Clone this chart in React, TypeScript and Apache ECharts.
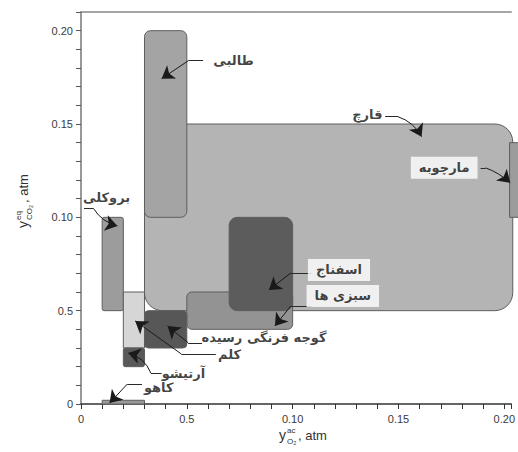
import React, { useEffect, useRef } from "react";
import * as echarts from "echarts";

// ---- data (O2 range on x, CO2 range on y, in atm) ----
const produce = ["قارچ", "سبزی ها", "اسفناج", "طالبی", "بروکلی", "کلم", "آرتیشو", "گوجه فرنگی رسیده", "کاهو", "مارچوبه"];
const o2Min = [0.03, 0.05, 0.07, 0.03, 0.01, 0.02, 0.02, 0.03, 0.01, 0.2025];
const o2Max = [0.204, 0.10, 0.10, 0.05, 0.02, 0.03, 0.03, 0.05, 0.03, 0.215];
const co2Min = [0.05, 0.04, 0.05, 0.10, 0.05, 0.03, 0.02, 0.03, 0.0, 0.10];
const co2Max = [0.15, 0.06, 0.10, 0.20, 0.10, 0.06, 0.03, 0.05, 0.002, 0.14];

const xTickLabels = ["0", "0.5", "0.10", "0.15", "0.20"];
const yTickLabels = ["0", "0.5", "0.10", "0.15", "0.20"];

// ---- styles ----
const fills = ["#b4b4b4", "#939393", "#5c5c5c", "#a4a4a4", "#9c9c9c", "#d6d6d6", "#595959", "#575757", "#9a9a9a", "#9c9c9c"];
const radii = [18, 5, 8, 6, 2, 0, 2, 4, 0, 0];

// ---- annotations (label centre, leader start, elbow, arrow tip) in data units ----
const annotations = [
  { name: "طالبی", at: [0.0721, 0.1839], start: [0.0577, 0.1839], elbow: [0.0507, 0.1839], tip: [0.0381, 0.1743], curve: 0, box: false },
  { name: "قارچ", at: [0.1353, 0.155], start: [0.1437, 0.1539], elbow: [0.1498, 0.1539], tip: [0.1609, 0.1432], curve: 0.2, box: false },
  { name: "مارچوبه", at: [0.1716, 0.1265], start: [0.1888, 0.1265], elbow: [0.1912, 0.1265], tip: [0.2028, 0.1185], curve: 0.1, box: true },
  { name: "بروکلی", at: [0.0121, 0.1105], start: [0.0014, 0.1046], elbow: [0.006, 0.1046], tip: [0.0172, 0.0954], curve: -0.2, box: false },
  { name: "اسفناج", at: [0.1219, 0.0718], start: [0.1088, 0.0702], elbow: [0.0991, 0.0702], tip: [0.0888, 0.0611], curve: 0, box: true },
  { name: "سبزی ها", at: [0.1237, 0.0579], start: [0.1088, 0.0525], elbow: [0.0991, 0.0525], tip: [0.0916, 0.0418], curve: 0, box: true },
  { name: "گوجه فرنگی رسیده", at: [0.0865, 0.0354], start: [0.0572, 0.0327], elbow: [0.0507, 0.0327], tip: [0.0409, 0.0418], curve: 0, box: false },
  { name: "کلم", at: [0.0702, 0.0263], start: [0.0637, 0.0268], elbow: [0.0474, 0.0268], tip: [0.0256, 0.0445], curve: 0, box: false },
  { name: "آرتیشو", at: [0.0484, 0.0161], start: [0.0381, 0.0166], elbow: [0.033, 0.0166], tip: [0.0223, 0.0273], curve: -0.25, box: false },
  { name: "کاهو", at: [0.0367, 0.0091], start: [0.0288, 0.0107], elbow: [0.0219, 0.0107], tip: [0.0135, 0.0005], curve: 0, box: false },
];

const fmt = (labels: string[]) => (v: number) => {
  const i = Math.round(v / 0.05);
  if (Math.abs(v - i * 0.05) < 1e-6 && i >= 0 && i < labels.length) return labels[i];
  return "";
};

const FONT = "DejaVu Sans";

export default function App() {
  const ref = useRef<HTMLDivElement>(null);
  useEffect(() => {
    if (!ref.current) return;
    const chart = echarts.init(ref.current, undefined, { renderer: "svg" });
    const rectData = produce.map((n, i) => ({ name: n, value: [o2Min[i], o2Max[i], co2Min[i], co2Max[i]] }));
    const axisFont = { fontFamily: "Liberation Sans", fontSize: 11, color: "#3a3a3a" };
    const option: any = {
      animation: false,
      grid: { left: 81, right: 0, top: 12, bottom: 48 },
      xAxis: [
        {
          type: "value", min: 0, max: 0.2033, interval: 0.05,
          splitLine: { show: false }, minorSplitLine: { show: false },
          axisLine: { lineStyle: { color: "#333", width: 1.5 } },
          axisTick: { show: true, length: 5, lineStyle: { color: "#333", width: 1 } },
          minorTick: { show: true, splitNumber: 5, length: 5, lineStyle: { color: "#333", width: 1 } },
          axisLabel: { ...axisFont, margin: 9, formatter: fmt(xTickLabels), showMaxLabel: false },
        },
        {
          type: "value", position: "top", min: 0, max: 0.2033,
          splitLine: { show: false }, axisTick: { show: false }, axisLabel: { show: false },
          axisLine: { show: true, lineStyle: { color: "#888", width: 1.5 } },
        },
      ],
      yAxis: {
        type: "value", min: 0, max: 0.21, interval: 0.05,
        splitLine: { show: false }, minorSplitLine: { show: false },
        axisLine: { show: true, lineStyle: { color: "#777", width: 1.5 } },
        axisTick: { show: true, length: 5, lineStyle: { color: "#555", width: 1 } },
        minorTick: { show: true, splitNumber: 5, length: 5, lineStyle: { color: "#555", width: 1 } },
        axisLabel: { ...axisFont, margin: 8, formatter: fmt(yTickLabels), showMaxLabel: false },
      },
      series: [
        {
          type: "custom",
          data: rectData,
          renderItem: (params: any, api: any) => {
            const i = params.dataIndex;
            const p0 = api.coord([api.value(0), api.value(3)]);
            const p1 = api.coord([api.value(1), api.value(2)]);
            const w = p1[0] - p0[0];
            const h = p1[1] - p0[1];
            return {
              type: "rect",
              shape: { x: p0[0], y: p0[1], width: w, height: h, r: Math.min(radii[i], w / 2, h / 2) },
              style: { fill: fills[i], stroke: "#5e5e5e", lineWidth: 1 },
            };
          },
          z: 2,
        },
        {
          type: "lines",
          coordinateSystem: "cartesian2d",
          symbol: ["none", "none"],
          lineStyle: { color: "#2a2a2a", width: 1, opacity: 1 },
          data: annotations.map((a) => ({ coords: [a.start, a.elbow] })),
          z: 4,
          silent: true,
        },
        {
          type: "lines",
          coordinateSystem: "cartesian2d",
          symbol: ["none", "arrow"],
          symbolSize: [8, 12],
          lineStyle: { color: "#1a1a1a", width: 1, opacity: 1 },
          data: annotations.map((a) => ({ coords: [a.elbow, a.tip], lineStyle: { curveness: a.curve } })),
          z: 4,
          silent: true,
        },
        {
          type: "scatter",
          symbolSize: 1,
          itemStyle: { color: "transparent" },
          data: annotations.map((a) => ({
            name: a.name,
            value: a.at,
            label: a.box
              ? { backgroundColor: "#ffffff", padding: [5, 8, 4, 8] }
              : {},
          })),
          label: {
            show: true,
            position: "inside",
            formatter: (p: any) => p.name,
            fontFamily: FONT,
            fontSize: 13,
            fontWeight: "bold",
            color: "#111",
          },
          z: 5,
          silent: true,
        },
      ],
      graphic: [
        {
          type: "group",
          left: 279,
          top: 426,
          children: [
            { type: "text", x: 0, y: 2, style: { text: "y", font: "14px 'Liberation Sans'", fill: "#333" } },
            { type: "text", x: 8, y: 0, style: { text: "ac", font: "8px 'Liberation Sans'", fill: "#333" } },
            { type: "text", x: 8, y: 11, style: { text: "O₂", font: "8px 'Liberation Sans'", fill: "#333" } },
            { type: "text", x: 19, y: 3, style: { text: ", atm", font: "13px 'Liberation Sans'", fill: "#333" } },
          ],
        },
        {
          type: "group",
          x: 14,
          y: 228,
          rotation: Math.PI / 2,
          children: [
            { type: "text", x: 0, y: 2, style: { text: "y", font: "14px 'Liberation Sans'", fill: "#333" } },
            { type: "text", x: 8, y: 0, style: { text: "eq", font: "8px 'Liberation Sans'", fill: "#333" } },
            { type: "text", x: 8, y: 11, style: { text: "CO₂", font: "8px 'Liberation Sans'", fill: "#333" } },
            { type: "text", x: 25, y: 3, style: { text: ", atm", font: "13px 'Liberation Sans'", fill: "#333" } },
          ],
        },
      ],
    };
    chart.setOption(option);
    return () => chart.dispose();
  }, []);
  return <div ref={ref} style={{ position: "absolute", left: 0, top: 0, width: 518, height: 452 }} />;
}
